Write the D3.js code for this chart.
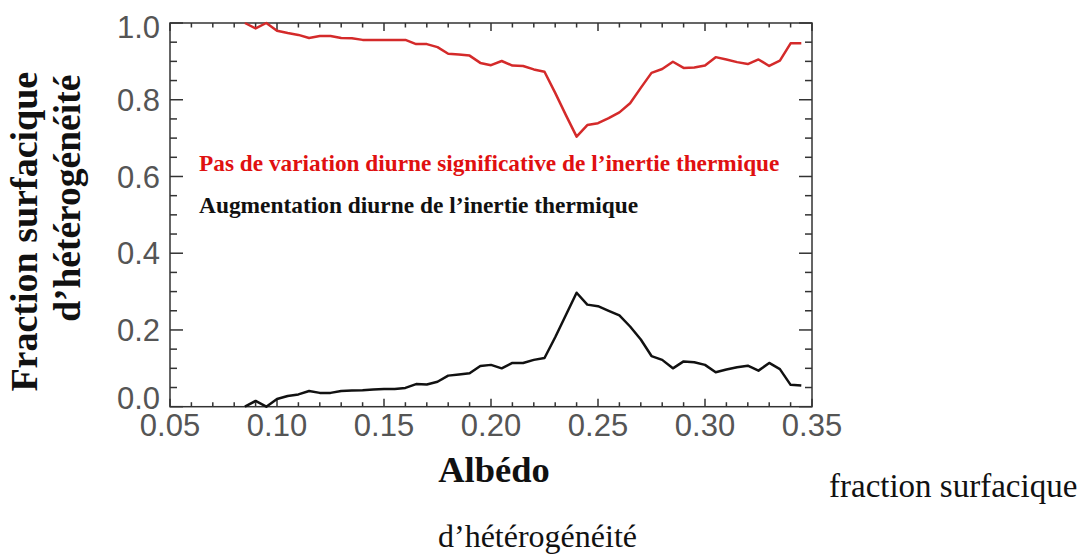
<!DOCTYPE html>
<html><head><meta charset="utf-8">
<script src="https://cdn.jsdelivr.net/npm/d3@7"></script>
<style>body{margin:0;background:#fff}svg{display:block}</style>
</head><body>
<svg id="c" width="1083" height="554"></svg>
<script>
const albedo = [0.085,0.090,0.095,0.100,0.105,0.110,0.115,0.120,0.125,0.130,0.135,0.140,0.145,0.150,0.155,0.160,0.165,0.170,0.175,0.180,0.185,0.190,0.195,0.200,0.205,0.210,0.215,0.220,0.225,0.230,0.235,0.240,0.245,0.250,0.255,0.260,0.265,0.270,0.275,0.280,0.285,0.290,0.295,0.300,0.305,0.310,0.315,0.320,0.325,0.330,0.335,0.340,0.345];
const noChange = [1.000,0.986,1.000,0.980,0.974,0.969,0.961,0.966,0.966,0.961,0.960,0.956,0.956,0.956,0.956,0.956,0.945,0.945,0.937,0.920,0.918,0.915,0.896,0.890,0.901,0.889,0.888,0.879,0.873,0.818,0.760,0.704,0.734,0.739,0.752,0.767,0.791,0.831,0.870,0.880,0.899,0.883,0.884,0.889,0.911,0.905,0.898,0.893,0.905,0.888,0.902,0.947,0.947];
const increase = [0.000,0.015,0.000,0.020,0.028,0.032,0.041,0.036,0.036,0.041,0.042,0.043,0.045,0.046,0.046,0.049,0.059,0.058,0.065,0.081,0.084,0.087,0.106,0.109,0.100,0.114,0.114,0.122,0.127,0.181,0.239,0.297,0.266,0.262,0.250,0.238,0.209,0.175,0.132,0.122,0.100,0.118,0.116,0.109,0.090,0.097,0.103,0.107,0.094,0.114,0.098,0.057,0.055];
const xTicks = [0.05,0.10,0.15,0.20,0.25,0.30,0.35];
const xTickLabels = ["0.05","0.10","0.15","0.20","0.25","0.30","0.35"];
const yTicks = [0.0,0.2,0.4,0.6,0.8,1.0];
const yTickLabels = ["0.0","0.2","0.4","0.6","0.8","1.0"];
const legendLabels = ["Pas de variation diurne significative de l\u2019inertie thermique","Augmentation diurne de l\u2019inertie thermique"];
const yTitleLines = ["Fraction surfacique","d\u2019h\u00e9t\u00e9rog\u00e9n\u00e9it\u00e9"];
const xTitle = "Alb\u00e9do";
const captionLines = ["fraction surfacique","d\u2019h\u00e9t\u00e9rog\u00e9n\u00e9it\u00e9"];

const svg = d3.select("#c");
const L = 170, R = 812, T = 23, B = 406.7;
const x = d3.scaleLinear().domain([0.05, 0.35]).range([L, R]);
const y = d3.scaleLinear().domain([0, 1]).range([B, T]);
const axisColor = "#333";

// minor / major ticks
const xMinor = d3.range(0, 31).map(i => 0.05 + i * 0.01);
const yMinor = d3.range(0, 21).map(i => i * 0.05);
const isMajorX = v => Math.abs(v / 0.05 - Math.round(v / 0.05)) < 1e-6;
const isMajorY = v => Math.abs(v / 0.2 - Math.round(v / 0.2)) < 1e-6;
const g = svg.append("g").attr("stroke", axisColor).attr("stroke-width", 1.5);
xMinor.forEach(v => {
  const len = isMajorX(v) ? 8 : 4.5;
  g.append("line").attr("x1", x(v)).attr("x2", x(v)).attr("y1", B).attr("y2", B - len);
  g.append("line").attr("x1", x(v)).attr("x2", x(v)).attr("y1", T).attr("y2", T + len);
});
yMinor.forEach(v => {
  const len = isMajorY(v) ? 13 : 7;
  g.append("line").attr("y1", y(v)).attr("y2", y(v)).attr("x1", L).attr("x2", L + len);
  g.append("line").attr("y1", y(v)).attr("y2", y(v)).attr("x1", R).attr("x2", R - len);
});
svg.append("rect").attr("x", L).attr("y", T).attr("width", R - L).attr("height", B - T)
  .attr("fill", "none").attr("stroke", axisColor).attr("stroke-width", 1.5);

// tick labels
const tickFont = "'Liberation Sans', Arial, sans-serif";
svg.append("g").selectAll("text").data(xTicks).join("text")
  .attr("x", d => x(d)).attr("y", 436)
  .attr("text-anchor", "middle").attr("font-family", tickFont).attr("font-size", 31)
  .attr("fill", "#555").text((d, i) => xTickLabels[i]);
svg.append("g").selectAll("text").data(yTicks).join("text")
  .attr("x", 160).attr("y", d => y(d) + (d === 1 ? 4 : d === 0 ? -9 : 0))
  .attr("dy", "0.36em")
  .attr("text-anchor", "end").attr("font-family", tickFont).attr("font-size", 31)
  .attr("fill", "#555").text((d, i) => yTickLabels[i]);

// lines
const line = d3.line().x((d, i) => x(albedo[i])).y(d => y(d));
svg.append("path").datum(noChange).attr("d", line).attr("fill", "none")
  .attr("stroke", "#d42a2a").attr("stroke-width", 2.5).attr("stroke-linejoin", "round");
svg.append("path").datum(increase).attr("d", line).attr("fill", "none")
  .attr("stroke", "#111").attr("stroke-width", 2.5).attr("stroke-linejoin", "round");

// legend text
const serif = "'Liberation Serif', 'Times New Roman', serif";
svg.append("text").attr("x", 199).attr("y", 171).attr("font-family", serif)
  .attr("font-weight", "bold").attr("font-size", 23.3).attr("fill", "#e01010").text(legendLabels[0]);
svg.append("text").attr("x", 199).attr("y", 213).attr("font-family", serif)
  .attr("font-weight", "bold").attr("font-size", 23.4).attr("fill", "#111").text(legendLabels[1]);

// y title
svg.append("text").attr("transform", "translate(37,231.7) rotate(-90)")
  .attr("text-anchor", "middle").attr("font-family", serif).attr("font-weight", "bold")
  .attr("font-size", 38).attr("fill", "#111").text(yTitleLines[0]);
svg.append("text").attr("transform", "translate(80,198.3) rotate(-90)")
  .attr("text-anchor", "middle").attr("font-family", serif).attr("font-weight", "bold")
  .attr("font-size", 37.5).attr("fill", "#111").text(yTitleLines[1]);

// x title
svg.append("text").attr("x", 494).attr("y", 482).attr("text-anchor", "middle")
  .attr("font-family", serif).attr("font-weight", "bold").attr("font-size", 36.5)
  .attr("fill", "#111").text(xTitle);

// caption
svg.append("text").attr("x", 829).attr("y", 497).attr("font-family", serif)
  .attr("font-size", 33).attr("fill", "#111").text(captionLines[0]);
svg.append("text").attr("x", 438).attr("y", 547).attr("font-family", serif)
  .attr("font-size", 32).attr("fill", "#111").text(captionLines[1]);
</script>
</body></html>
